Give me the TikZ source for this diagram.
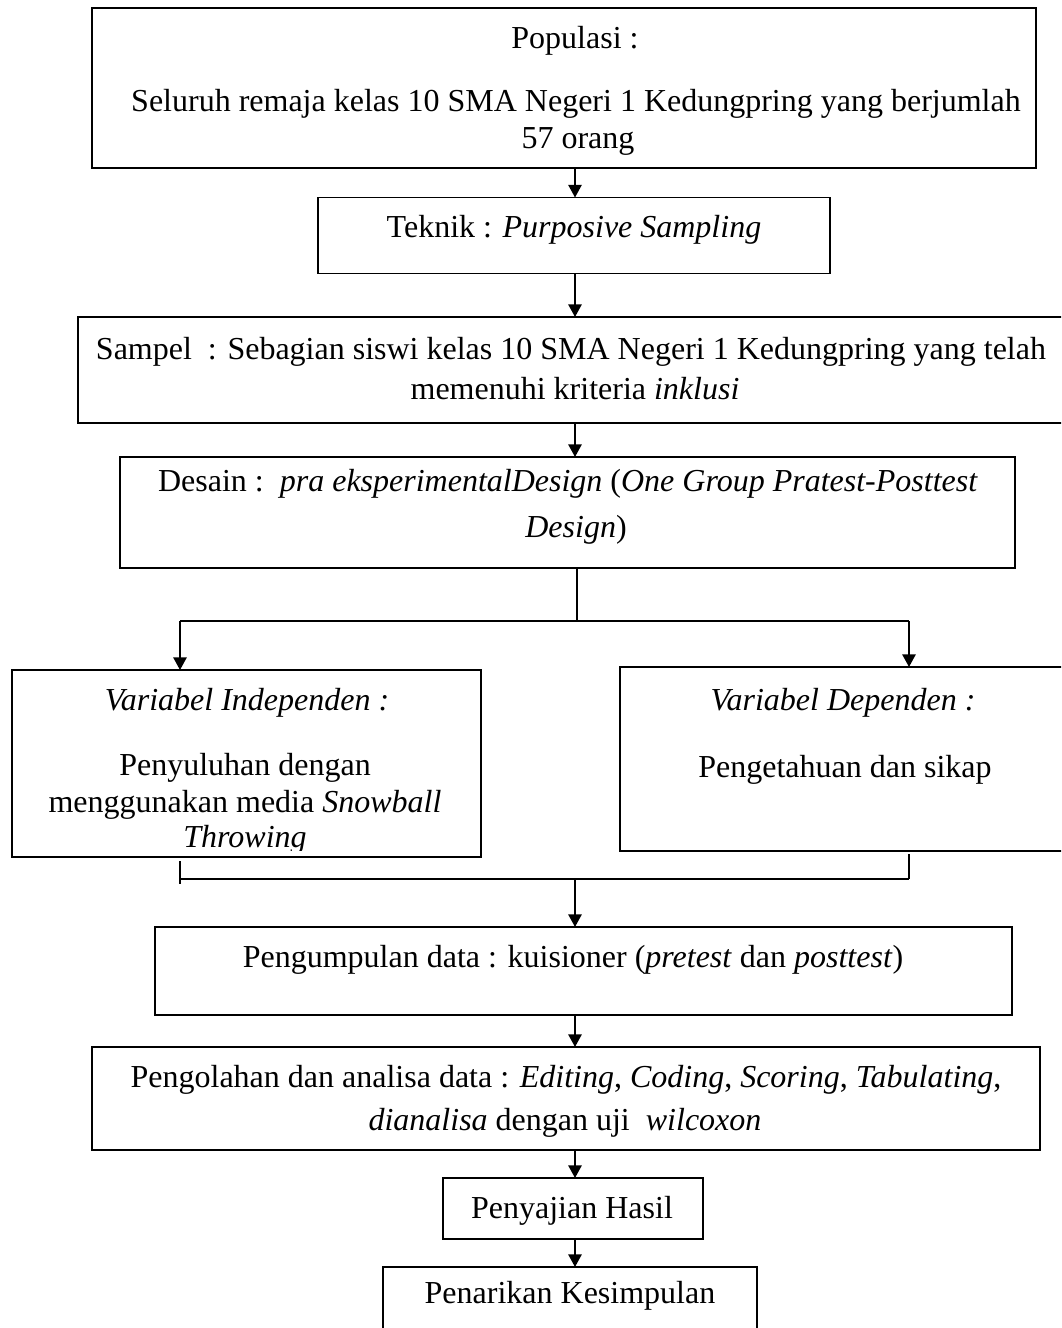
\documentclass[tikz,border=0pt]{standalone}
\usepackage{fontspec}
\setmainfont{Liberation Serif}
\usetikzlibrary{arrows.meta}
\begin{document}
\begin{tikzpicture}[x=0.75pt,y=-0.75pt,
  box/.style={draw,line width=1.4pt,inner sep=0pt,outer sep=0pt,rectangle},
  txt/.style={inner sep=0pt,anchor=base,font=\fontsize{24}{28}\selectfont},
  arr/.style={line width=1.3pt,-{Triangle[length=9.5pt,width=10pt]}},
  ln/.style={line width=1.3pt}]
\useasboundingbox (0,0) rectangle (1061,1328);
\clip (0,0) rectangle (1061,1328);
% boxes
\node[box,minimum width=708pt,minimum height=120pt] (b1) at (564,88) {};
\node[box,minimum width=384pt,minimum height=57pt] (b2) at (574,235.5) {};
\node[box,minimum width=740.25pt,minimum height=79.5pt] (b3) at (571.5,370) {};
\node[box,minimum width=671.25pt,minimum height=83.25pt] (b4) at (567.5,512.5) {};
\node[box,minimum width=351.75pt,minimum height=140.25pt] (b5) at (246.5,763.5) {};
\node[box,minimum width=337.5pt,minimum height=138pt] (b6) at (845,759) {};
\node[box,minimum width=642.75pt,minimum height=66pt] (b7) at (583.5,971) {};
\node[box,minimum width=711pt,minimum height=77.25pt] (b8) at (566,1098.5) {};
\node[box,minimum width=195pt,minimum height=45.75pt] (b9) at (573,1208.5) {};
\node[box,minimum width=280.5pt,minimum height=84.75pt] (b10) at (570,1323.5) {};
% texts
\node[txt] (t1a) at (575,48) {Populasi :};
\node[txt] (t1b) at (576,111) {Seluruh remaja kelas 10 SMA Negeri 1 Kedungpring yang berjumlah};
\node[txt] (t1c) at (578,148) {57 orang};
\node[txt] (t2) at (574,237) {Teknik : \textit{Purposive Sampling}};
\node[txt] (t3a) at (571,359) {Sampel\ \ : Sebagian siswi kelas 10 SMA Negeri 1 Kedungpring yang telah};
\node[txt] (t3b) at (575,399) {memenuhi kriteria \textit{inklusi}};
\node[txt] (t4a) at (568,491) {Desain :\ \ \textit{pra eksperimentalDesign} (\textit{One Group Pratest-Posttest}};
\node[txt] (t4b) at (576,537) {\textit{Design})};
\node[txt] (t5a) at (247,710) {\textit{Variabel Independen :}};
\node[txt] (t5b) at (245,775) {Penyuluhan dengan};
\node[txt] (t5c) at (245,812) {menggunakan media \textit{Snowball}};
\begin{scope}
\clip (12,670) rectangle (481,850);
\node[txt] (t5d) at (245,847) {\textit{Throwing}};
\end{scope}
\node[txt] (t6a) at (843,710) {\textit{Variabel Dependen :}};
\node[txt] (t6b) at (845,777) {Pengetahuan dan sikap};
\node[txt] (t7) at (573,967) {Pengumpulan data : kuisioner (\textit{pretest} dan \textit{posttest})};
\node[txt] (t8a) at (566,1087) {Pengolahan dan analisa data : \textit{Editing}, \textit{Coding}, \textit{Scoring}, \textit{Tabulating},};
\node[txt] (t8b) at (565,1130) {\textit{dianalisa} dengan uji\ \ \textit{wilcoxon}};
\node[txt] (t9) at (572,1218) {Penyajian Hasil};
\node[txt] (t10) at (570,1303) {Penarikan Kesimpulan};
% connectors
\coordinate (ax) at (575,0);
\draw[arr] (b1.south -| ax) -- (b2.north -| ax);
\draw[arr] (b2.south -| ax) -- (b3.north -| ax);
\draw[arr] (b3.south -| ax) -- (b4.north -| ax);
\coordinate (sp) at (577,621);
\coordinate (sl) at (180,621);
\coordinate (sr) at (909,621);
\draw[ln] (b4.south -| sp) -- (sp);
\draw[ln] (sl) -- (sr);
\draw[arr] (sl) -- (b5.north -| sl);
\draw[arr] (sr) -- (b6.north -| sr);
\coordinate (tl1) at (180,861);
\coordinate (tl2) at (180,884);
\coordinate (tr1) at (909,854);
\coordinate (ml) at (180,879);
\coordinate (mr) at (909,879);
\coordinate (mc) at (575,879);
\draw[ln] (tl1) -- (tl2);
\draw[ln] (tr1) -- (mr);
\draw[ln] (ml) -- (mr);
\draw[arr] (mc) -- (b7.north -| mc);
\draw[arr] (b7.south -| ax) -- (b8.north -| ax);
\draw[arr] (b8.south -| ax) -- (b9.north -| ax);
\draw[arr] (b9.south -| ax) -- (b10.north -| ax);
\end{tikzpicture}
\end{document}
